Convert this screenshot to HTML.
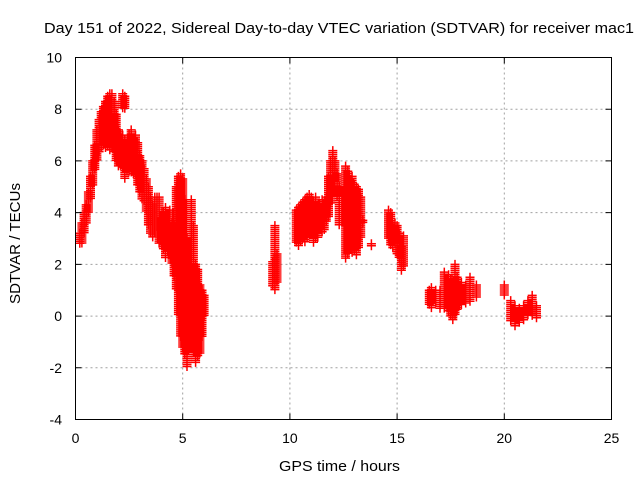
<!DOCTYPE html>
<html><head><meta charset="utf-8"><style>
body{margin:0;background:#fff}
svg{display:block;font-family:"Liberation Sans",sans-serif}
</style></head><body>
<svg id="chart" width="640" height="480" viewBox="0 0 640 480">
<rect width="640" height="480" fill="#fff"/>
<g id="grid"></g>
<g id="marks"></g>
<rect x="75.5" y="57.5" width="536" height="362" fill="none" stroke="#000" stroke-width="1"/>
<g id="axes" font-size="14"></g>
<text x="44" y="33" font-size="15" textLength="590" lengthAdjust="spacingAndGlyphs">Day 151 of 2022, Sidereal Day-to-day VTEC variation (SDTVAR) for receiver mac1</text>
<text x="279" y="471" font-size="15" textLength="121" lengthAdjust="spacingAndGlyphs">GPS time / hours</text>
<text transform="translate(20,304) rotate(-90)" font-size="15" textLength="121" lengthAdjust="spacingAndGlyphs">SDTVAR / TECUs</text>
</svg>
<script>
const xTicks=[0,5,10,15,20,25];
const yTicks=[-4,-2,0,2,4,6,8,10];
const times=[0.2,0.3,0.4,0.5,0.6,0.7,0.8,0.9,1.0,1.1,1.2,1.3,1.4,1.5,1.6,1.7,1.8,1.9,2.0,2.1,2.2,2.2,2.3,2.3,2.4,2.5,2.6,2.7,2.8,2.9,3.0,3.1,3.2,3.3,3.4,3.5,3.6,3.7,3.8,3.9,4.0,4.1,4.2,4.3,4.4,4.5,4.6,4.7,4.8,4.9,5.0,5.1,5.2,5.3,5.4,5.5,5.6,5.7,5.8,5.9,6.0,
9.2,9.3,9.4,10.3,10.4,10.5,10.6,10.7,10.8,10.9,11.0,11.1,11.2,11.3,11.4,11.5,11.6,11.7,11.8,11.9,12.0,12.1,12.2,12.3,
12.6,12.7,12.8,12.9,13.0,13.1,13.2,13.3,13.4,13.8,14.6,14.7,14.8,14.9,15.0,15.1,15.2,15.3,
16.5,16.6,16.8,17.0,17.2,17.4,17.5,17.6,17.7,17.8,17.9,18.0,18.2,18.4,18.7,
20.0,20.3,20.5,20.7,20.9,21.1,21.3,21.5];
const lowValues=[2.8,2.8,3.2,3.6,4.0,4.5,5.0,5.6,6.0,6.3,6.5,6.6,6.5,6.5,6.4,6.5,6.3,6.0,5.8,5.8,5.7,8.0,5.3,8.0,5.6,5.6,5.5,5.5,5.4,5.0,4.8,4.5,4.4,4.0,3.5,3.2,3.0,3.2,3.4,2.8,2.8,2.6,2.2,2.5,2.8,2.0,1.5,1.0,0.0,-0.8,-1.2,-1.5,-2.0,-1.0,-1.3,-1.4,-1.8,-1.6,-1.5,-0.8,0.0,
1.1,1.0,1.3,2.8,2.7,2.9,3.0,2.8,3.0,3.3,3.4,2.8,3.0,3.0,3.3,3.2,3.3,3.6,3.8,4.3,5.5,5.2,4.6,3.5,
2.2,2.4,2.6,2.4,2.5,2.3,2.6,3.0,3.6,2.7,3.0,2.7,2.6,2.8,2.4,2.2,1.7,1.9,
0.4,0.3,0.5,0.3,0.3,0.2,0.0,-0.2,0.0,0.2,0.4,0.4,0.5,0.5,0.7,
0.8,-0.2,-0.4,-0.3,-0.2,0.0,0.0,-0.1];
const highValues=[3.2,3.6,4.0,4.3,4.8,5.4,6.0,6.6,7.2,7.6,7.9,8.1,8.3,8.5,8.6,8.6,8.3,7.8,7.2,7.0,7.0,8.6,6.8,8.5,6.7,7.0,7.2,6.9,7.0,6.7,6.2,6.0,5.7,5.3,5.0,4.6,4.3,4.6,4.6,4.6,3.8,4.0,4.2,3.7,4.1,3.6,3.5,5.0,5.4,5.5,5.3,4.5,3.0,2.0,4.5,3.5,2.0,1.8,1.2,1.0,0.8,
2.1,3.5,2.4,4.1,4.2,4.3,4.4,4.5,4.6,4.7,4.6,4.4,4.6,3.9,4.3,4.5,4.2,4.6,5.4,6.0,6.4,6.0,5.5,5.0,
5.8,5.6,5.3,5.4,5.1,5.0,4.9,4.6,3.7,2.8,4.1,4.0,3.5,3.6,3.5,3.2,2.7,3.1,
1.0,1.1,1.0,1.0,1.7,1.6,1.4,1.1,2.0,1.5,1.0,1.3,1.2,1.5,1.2,
1.2,0.6,0.4,0.3,0.4,0.6,0.8,0.4];
const X0=75.5,X1=611.5,Y0=419.5,Y1=57.5;
const xScale=t=>X0+(t-0)/(25-0)*(X1-X0);
const yScale=v=>Y0-(v+4)/(10+4)*(Y0-Y1);
const NS="http://www.w3.org/2000/svg";
const grid=document.getElementById('grid'),axes=document.getElementById('axes'),marks=document.getElementById('marks');
function mk(tag,attrs,parent){const e=document.createElementNS(NS,tag);for(const k in attrs)e.setAttribute(k,attrs[k]);parent.appendChild(e);return e;}
xTicks.forEach(t=>{const x=xScale(t);
 if(t>0&&t<25){const g=mk('line',{x1:x,x2:x,y1:Y1,y2:Y0,stroke:'#a0a0a0','stroke-dasharray':'2,3'},grid);
 
 }
 const tk=mk('path',{d:`M${x} ${Y0}v-6M${x} ${Y1}v6`,stroke:'#000'},axes);
 
 
 const l=mk('text',{x:x,y:443,'text-anchor':'middle'},axes);l.textContent=t;
 
 
});
yTicks.forEach(v=>{const y=yScale(v);
 if(v>-4&&v<10){const g=mk('line',{x1:X0,x2:X1,y1:y,y2:y,stroke:'#a0a0a0','stroke-dasharray':'2,3'},grid);
 
 }
 const tk=mk('path',{d:`M${X0} ${y}h6M${X1} ${y}h-6`,stroke:'#000'},axes);
 
 
 const l=mk('text',{x:62,y:y+5,'text-anchor':'end'},axes);l.textContent=v;
 
 
});
let d='';
times.forEach((t,i)=>{const x=xScale(t);const ya=yScale(highValues[i]),yb=yScale(lowValues[i]);
 for(let y=ya;y<=yb+0.01;y+=2){d+=`M${(x-4.5).toFixed(1)} ${y.toFixed(1)}h9M${x.toFixed(1)} ${(y-4.5).toFixed(1)}v9`;}
 if(yb-ya<2)d+=`M${(x-4.5).toFixed(1)} ${yb.toFixed(1)}h9M${x.toFixed(1)} ${(yb-4.5).toFixed(1)}v9`;
});
const p=mk('path',{d:d,stroke:'#ff0000','stroke-width':'1.5',fill:'none'},marks);


</script>
</body></html>
